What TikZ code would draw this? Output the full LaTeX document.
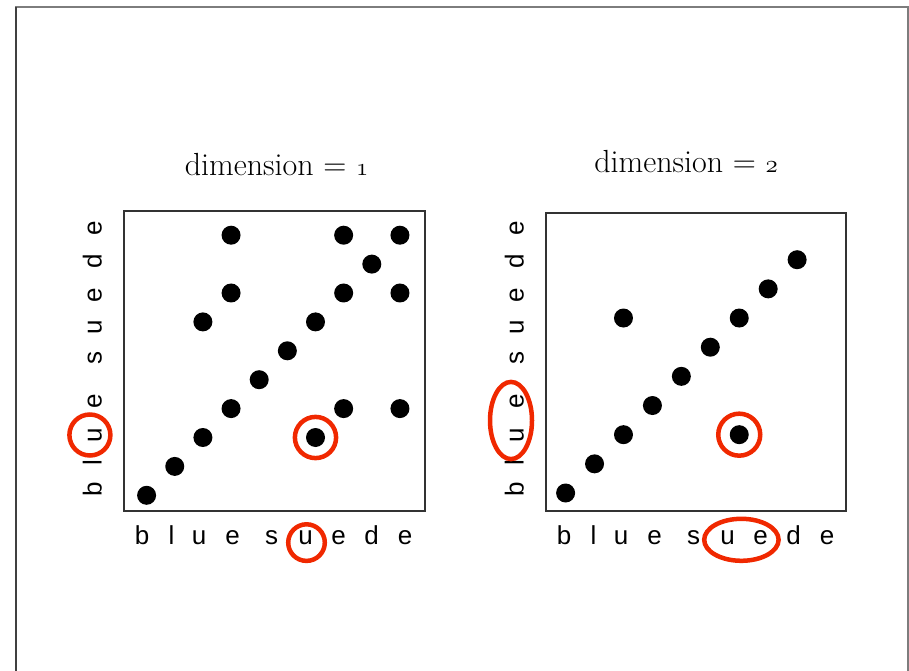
\documentclass[tikz,border=0pt]{standalone}
\usepackage{fontspec}
\newfontfamily\axisfont{Liberation Sans}
\usetikzlibrary{calc,positioning}
\definecolor{RingRed}{RGB}{240,40,0}
\definecolor{FrameGray}{RGB}{125,125,125}
\newcommand{\osnum}[1]{{\usefont{OML}{lmm}{m}{it}#1}}

\begin{document}
\begin{tikzpicture}[
      x=1pt, y=1pt,
      every node/.style={inner sep=0pt},
      panel/.style={draw=black!80, line width=1.2pt, minimum width=301pt, minimum height=300pt},
      dot/.style={circle, fill=black, minimum size=19pt},
      letter/.style={font=\axisfont\fontsize{26}{30}\selectfont, anchor=base},
      title/.style={font=\fontsize{32}{36}\selectfont},
      ring/.style={draw=RingRed, line width=4.5pt},
      frame/.style={draw=FrameGray, line width=1.5pt}
    ]
      \useasboundingbox (0,0) rectangle (909,670);
      \draw[frame] (16,-10) -- (16,663) -- (908,663) -- (908,-10);
      \draw[frame, draw=black!75] (16,-10) -- (16,663);

      % dimension = 1
      \begin{scope}[shift={(124,159)}]
        \node[panel] (boxa) at (150.5,150) {};
        \foreach \i/\j in {0/0,1/1,2/2,3/3,4/4,5/5,6/6,7/7,8/8,9/9,
                           2/6,6/2,3/7,3/9,7/3,7/9,9/3,9/7}
          \node[dot] (pa-\i-\j) at ({22.6+28.15*\i},{15.7+28.9*\j}) {};
        \foreach \ch/\off [count=\k] in {b/18,l/47.5,u/75,e/108.5,s/147.5,u/181.5,e/214.5,d/247.5,e/281}
          \node[letter] (xa-\k) at (\off,-33) {\ch};
        \foreach \ch/\off [count=\k] in {b/22,l/48,u/76,e/110,s/153,u/184,e/216,d/250,e/282.5}
          \node[letter, rotate=90] (ya-\k) at (-22.3,\off) {\ch};
      \end{scope}

      % dimension = 2
      \begin{scope}[shift={(546,159)}]
        \node[panel, minimum width=300pt, minimum height=298pt] (boxb) at (150,149) {};
        \foreach \i/\j in {0/0,1/1,2/2,3/3,4/4,5/5,6/6,7/7,8/8,2/6,6/2}
          \node[dot] (pb-\i-\j) at ({19.6+28.94*\i},{18+29.16*\j}) {};
        \foreach \ch/\off [count=\k] in {b/18,l/47.5,u/75,e/108.5,s/147.5,u/181.5,e/214.5,d/247.5,e/281}
          \node[letter] (xb-\k) at (\off,-33) {\ch};
        \foreach \ch/\off [count=\k] in {b/22,l/48,u/76,e/110,s/153,u/184,e/216,d/250,e/282.5}
          \node[letter, rotate=90] (yb-\k) at (-22.3,\off) {\ch};
      \end{scope}

      \node[title, above=34pt of boxa, xshift=2pt] (ta) {dimension = \osnum{1}};
      \node[title, above=39pt of boxb, xshift=-10pt] (tb) {dimension = \osnum{2}};

      % red marks
      \draw[ring] ($(ya-3.base)+(-11.8,0)$) circle[radius=20.5];
      \draw[ring] (pa-6-2) circle[radius=20.6];
      \draw[ring] ($(xa-6.base)+(1,1.4)$) circle[radius=18.3];
      \draw[ring] ($(yb-3.base)!0.5!(yb-4.base)+(-12.7,-2.5)$) ellipse[x radius=21, y radius=38.6];
      \draw[ring] (pb-6-2) circle[radius=21];
      \draw[ring] ($(xb-6.base)!0.5!(xb-7.base)+(-2.6,4.2)$) ellipse[x radius=37.2, y radius=21];
    \end{tikzpicture}
\end{document}
